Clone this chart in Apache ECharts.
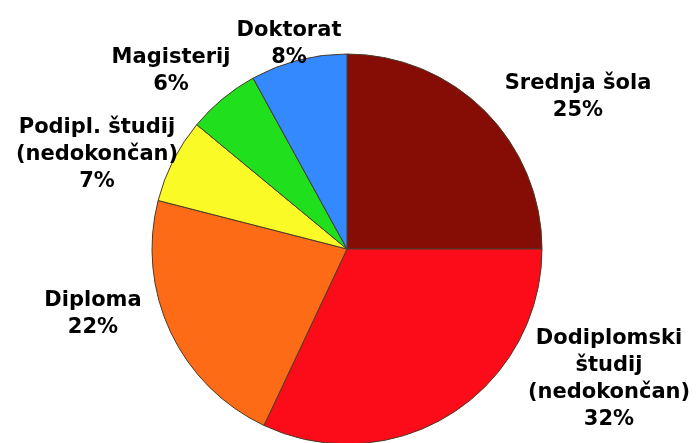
<!DOCTYPE html>
<html>
<head>
<meta charset="utf-8">
<script src="https://cdn.jsdelivr.net/npm/echarts@6/dist/echarts.min.js"></script>
<style>
html,body{margin:0;padding:0;background:#fff;}
#c{width:697px;height:443px;}
</style>
</head>
<body>
<div id="c"></div>
<script>
const categories = ['Srednja šola', 'Dodiplomski\nštudij\n(nedokončan)', 'Diploma', 'Podipl. študij\n(nedokončan)', 'Magisterij', 'Doktorat'];
const values = [25, 32, 22, 7, 6, 8];
const colors = ['#860c06', '#fb0c18', '#fd6b16', '#fafa26', '#20e01e', '#3389fd'];
// label block centres (layout styling)
const labelPos = [[578, 97], [609, 379], [93, 314], [97, 155], [171, 71], [289, 44]];

const chart = echarts.init(document.getElementById('c'), null, {renderer: 'canvas'});
chart.setOption({
  animation: false,
  series: [{
    type: 'pie',
    center: [347, 249],
    radius: 195,
    startAngle: 90,
    clockwise: true,
    data: categories.map((n, i) => ({name: n, value: values[i], itemStyle: {color: colors[i]}})),
    itemStyle: {borderColor: '#4a3a2a', borderWidth: 1},
    label: {
      show: true,
      position: 'outside',
      formatter: p => p.name + '\n' + p.value + '%',
      fontFamily: 'DejaVu Sans',
      fontWeight: 'bold',
      fontSize: 21,
      lineHeight: 27,
      color: '#000',
      align: 'center',
      overflow: 'none'
    },
    labelLine: {show: false},
    labelLayout: function (params) {
      const pos = labelPos[params.dataIndex];
      return {x: pos[0], y: pos[1], align: 'center', verticalAlign: 'middle', width: 300};
    },
    emphasis: {disabled: true}
  }]
});
</script>
</body>
</html>
